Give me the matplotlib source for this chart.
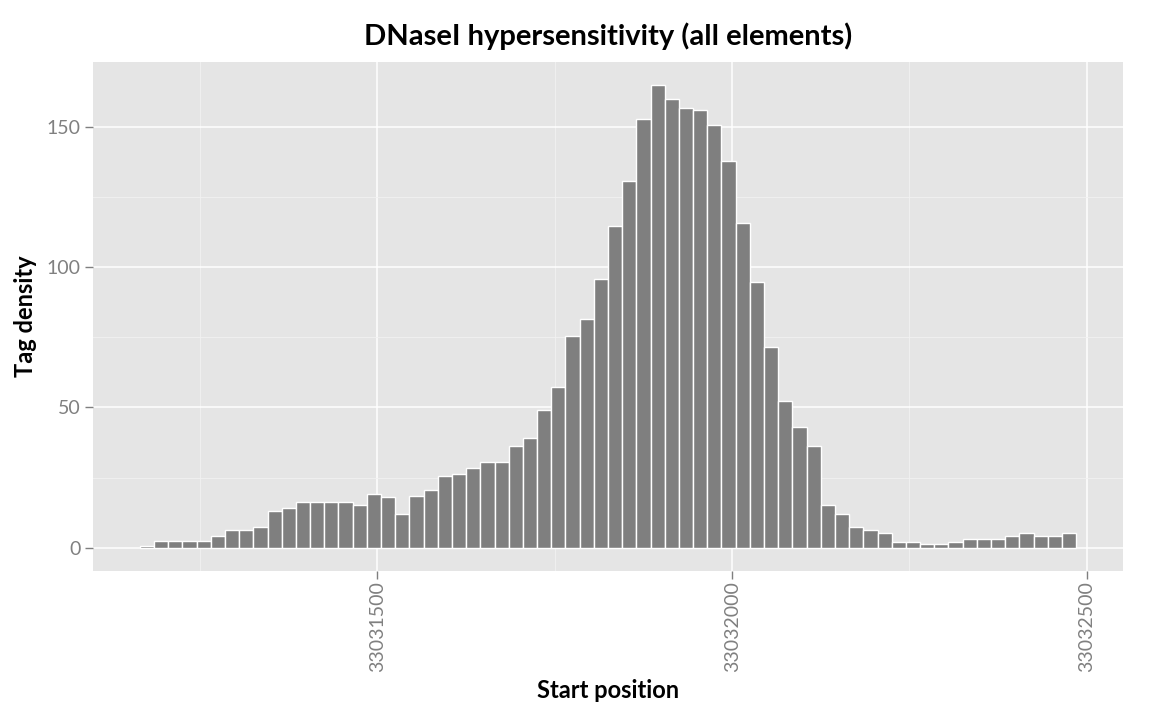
import numpy as np
import matplotlib
matplotlib.use("Agg")
import matplotlib.pyplot as plt
from matplotlib.ticker import MultipleLocator

# histogram: 20 bp bins starting at 33031165
bin_start = 33031165
bin_width = 20
tag_density = [
    0.6, 2.4, 2.4, 2.4, 2.4, 4.3, 6.3, 6.3, 7.3, 13.3, 14.3, 16.3, 16.3, 16.3, 16.3, 15.4, 19.3,
    18.2, 12.1, 18.4, 20.5, 25.5, 26.4, 28.3, 30.6, 30.6, 36.3, 39.3, 49.2,
    57.4, 75.5, 81.5, 95.6, 114.8, 130.6, 152.8, 164.8, 159.7, 156.7, 155.8, 150.7, 137.7,
    115.7, 94.8, 71.5, 52.3, 43.2, 36.3, 15.3, 12.1, 7.3, 6.3, 5.2, 2.2, 2.2, 1.2, 1.2,
    2.2, 3.2, 3.2, 3.2, 4.2, 5.2, 4.2, 4.2, 5.2,
]
x_ticks = [33031500, 33032000, 33032500]
y_ticks = [0, 50, 100, 150]

title = "DNaseI hypersensitivity (all elements)"
x_label = "Start position"
y_label = "Tag density"

plt.rcParams['font.family'] = ['Lato', 'DejaVu Sans']

left_edges = bin_start + bin_width * np.arange(len(tag_density))

fig = plt.figure(figsize=(11.52, 7.2), dpi=100)
ax = fig.add_axes([93 / 1152, (720 - 571) / 720, (1123 - 93) / 1152, (571 - 62) / 720])
ax.set_facecolor('#E5E5E5')

ax.bar(left_edges, tag_density, width=bin_width, align='edge',
       color='#7F7F7F', edgecolor='white', linewidth=1.0, zorder=3)

x_lo, x_hi = left_edges[0], left_edges[-1] + bin_width
pad = 0.05 * (x_hi - x_lo)
ax.set_xlim(x_lo - pad, x_hi + pad)
ymax = max(tag_density)
ax.set_ylim(-0.05 * ymax, 1.05 * ymax)

ax.set_xticks(x_ticks)
ax.set_xticklabels([str(t) for t in x_ticks], rotation=90)
ax.set_yticks(y_ticks)
ax.xaxis.set_minor_locator(MultipleLocator(250))
ax.yaxis.set_minor_locator(MultipleLocator(25))

ax.grid(which='major', color='white', linewidth=1.1, zorder=1)
ax.grid(which='minor', color='#F2F2F2', linewidth=0.6, zorder=1)
ax.set_axisbelow(True)

for s in ax.spines.values():
    s.set_visible(False)

ax.tick_params(which='major', length=6, width=1, color='#7F7F7F',
               labelcolor='#808080', labelsize=14)
ax.tick_params(axis='x', pad=1.5)
ax.tick_params(axis='y', pad=3)
ax.tick_params(which='minor', length=0)

ax.set_title(title, fontsize=21, fontweight='bold', pad=12)
ax.set_xlabel(x_label, fontsize=17, fontweight='bold', labelpad=5)
ax.set_ylabel(y_label, fontsize=17, fontweight='bold', labelpad=7)

fig.savefig('out.png', dpi=100)
